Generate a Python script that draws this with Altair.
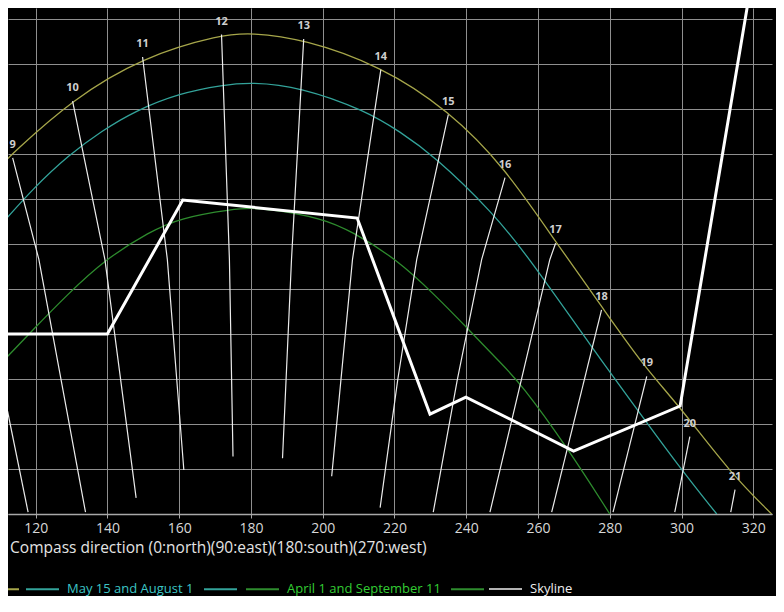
import altair as alt
import pandas as pd

FONT = "Open Sans"

# ---------------- data ----------------
# sun path curves: azimuth (deg) / altitude (deg)
june_az = [110.0, 113.6, 130.3, 149.8, 171.8, 180.0, 194.7, 216.2, 235.0, 250.8, 265.0, 277.7, 289.3, 299.6, 313.5, 325.1]
june_alt = [38.6, 40.1, 46.1, 50.8, 53.3, 53.5, 52.8, 49.8, 44.9, 38.5, 30.2, 23.1, 16.5, 11.9, 4.6, 0.0]

may_az = [110.0, 119.3, 129.2, 138.5, 147.6, 160.2, 172.3, 180.0, 193.7, 212.2, 221.5, 230.8, 247.5, 257.8, 275.4, 288.4, 300.0, 309.8]
may_alt = [32.0, 36.2, 39.9, 42.6, 44.8, 46.8, 47.7, 48.0, 47.5, 44.8, 42.5, 39.9, 33.5, 28.3, 18.3, 11.2, 4.9, 0.0]

april_az = [110.0, 119.3, 128.6, 139.3, 151.9, 160.2, 175.1, 180.0, 184.9, 199.8, 208.2, 220.7, 231.4, 240.7, 250.0, 255.0, 268.0, 280.0]
april_alt = [16.6, 20.5, 24.3, 28.3, 31.4, 32.9, 33.9, 34.0, 33.9, 32.9, 31.4, 28.3, 24.3, 20.5, 16.6, 14.6, 7.5, 0.0]

skyline_az = [110.0, 140.0, 161.0, 209.6, 229.9, 239.9, 269.9, 299.6, 320.0]
skyline_alt = [20.0, 20.0, 34.9, 32.9, 11.1, 13.0, 7.0, 12.0, 60.4]

# hour lines (first point = upper end, on the June curve)
hours = [8, 9, 10, 11, 12, 13, 14, 15, 16, 17, 18, 19, 20, 21]
hour_az = [
    [110.0, 117.9],
    [113.6, 120.9, 133.9],
    [130.3, 139.3, 148.0],
    [149.8, 156.7, 161.3],
    [171.8, 174.0, 175.0],
    [194.7, 191.3, 188.8],
    [216.2, 208.3, 202.5],
    [235.0, 226.2, 220.9, 216.0],
    [250.8, 244.3, 237.5, 230.8],
    [264.9, 263.3, 246.6],
    [277.7, 263.8],
    [290.3, 280.9],
    [302.3, 298.1],
    [314.9, 313.7],
]
hour_alt = [
    [15.7, 0.2],
    [39.6, 28.3, 0.2],
    [45.9, 28.3, 1.8],
    [50.8, 28.3, 4.9],
    [53.3, 28.3, 6.4],
    [52.8, 28.3, 6.2],
    [49.4, 28.3, 4.2],
    [44.4, 28.3, 14.9, 0.7],
    [37.4, 28.3, 14.9, 0.2],
    [30.1, 28.3, 0.2],
    [22.7, 0.2],
    [15.3, 0.2],
    [8.6, 0.2],
    [2.7, 0.2],
]
labelled_hours = [9, 10, 11, 12, 13, 14, 15, 16, 17, 18, 19, 20, 21]

x_ticks = [120, 140, 160, 180, 200, 220, 240, 260, 280, 300, 320]
y_grid = [0, 5, 10, 15, 20, 25, 30, 35, 40, 45, 50, 55]

# ---------------- tables ----------------
def curve(az, alt_, name):
    return pd.DataFrame({"az": az, "alt": alt_, "series": name})

june_df = curve(june_az, june_alt, "June 21")
may_df = curve(may_az, may_alt, "May 15 and August 1")
april_df = curve(april_az, april_alt, "April 1 and September 11")
sky_df = curve(skyline_az, skyline_alt, "Skyline")

rows = []
for h, azs, alts in zip(hours, hour_az, hour_alt):
    for i, (a, b) in enumerate(zip(azs, alts)):
        rows.append({"hour": h, "az": a, "alt": b, "order": i})
hour_df = pd.DataFrame(rows)
lab_df = pd.DataFrame([
    {"hour": h, "label": str(h), "az": hour_az[hours.index(h)][0], "alt": hour_alt[hours.index(h)][0]}
    for h in labelled_hours
])

# ---------------- encodings ----------------
xs = alt.Scale(domain=[112.3, 325.2], nice=False, zero=False)
ys = alt.Scale(domain=[0, 56.25], nice=False, zero=False)

X = alt.X("az:Q", scale=xs, axis=alt.Axis(
    values=x_ticks, grid=True, gridColor="#8f8f8f", gridWidth=1,
    domainColor="#a8a8a8", domainWidth=1.5, tickColor="#a8a8a8", tickSize=4,
    labelColor="#d8d8d8", labelFont=FONT, labelFontSize=14, labelPadding=3,
    title="Compass direction (0:north)(90:east)(180:south)(270:west)",
    titleColor="#e4e4e4", titleFont=FONT, titleFontSize=15.5, titleFontWeight="normal",
    titleAlign="right", titleX=418, titleY=33, titleBaseline="middle"))
Y = alt.Y("alt:Q", scale=ys, axis=alt.Axis(
    values=y_grid, grid=True, gridColor="#8f8f8f", gridWidth=1,
    labels=False, ticks=False, domain=False, title=None))

LEG_Y = 563.5
BLANK = "indexof(datum.label, '~') >= 0 ? '' : datum.label"


def legend(x, label_color, cols, expr=BLANK, opacity=1.0):
    return alt.Legend(orient="none", legendX=x, legendY=LEG_Y, direction="horizontal",
                      columns=cols, title=None, symbolType="stroke", symbolSize=1089,
                      symbolStrokeWidth=2, symbolOpacity=opacity, labelColor=label_color,
                      labelFont=FONT, labelFontSize=13, labelOffset=7, columnPadding=6,
                      padding=0, labelExpr=expr)


def sun_layer(df, name, line_color, label_color, lx, expr=BLANK):
    return alt.Chart(df).mark_line(strokeWidth=1.3, clip=True, interpolate="basis").encode(
        x=X, y=Y,
        color=alt.Color("series:N",
                        scale=alt.Scale(domain=[name, name + "~"], range=[line_color, line_color]),
                        legend=legend(lx, label_color, 2, expr)))


june = sun_layer(june_df, "June 21", "#a6a64a", "#d6d64a", -74, expr="''")
may = sun_layer(may_df, "May 15 and August 1", "#33a39a", "#3cc6c6", 17)
april = sun_layer(april_df, "April 1 and September 11", "#2e8c2e", "#33cc33", 237)

hour_lines = alt.Chart(hour_df).mark_line(strokeWidth=1.2, color="#ececec", clip=True).encode(
    x=X, y=Y, detail="hour:N", order="order:Q")

hour_labels = alt.Chart(lab_df).mark_text(
    dy=-13, font=FONT, fontSize=11, fontWeight="bold", color="#cfcfcf").encode(
    x=X, y=Y, text="label:N")

skyline = alt.Chart(sky_df).mark_line(strokeWidth=3, clip=True).encode(
    x=X, y=Y,
    color=alt.Color("series:N", scale=alt.Scale(domain=["Skyline"], range=["#ffffff"]),
                    legend=legend(480, "#eeeeee", 1, opacity=0.7)))

chart = alt.layer(june, may, april, hour_lines, skyline, hour_labels).resolve_scale(
    color="independent"
).properties(
    width=764, height=506,
    padding={"left": 0, "top": 0, "right": 4, "bottom": 82},
    autosize=alt.AutoSizeParams(type="none"),
    background="#000000",
).configure_view(strokeWidth=0)

chart.save("out.html", embed_options={"renderer": "svg", "actions": False})
